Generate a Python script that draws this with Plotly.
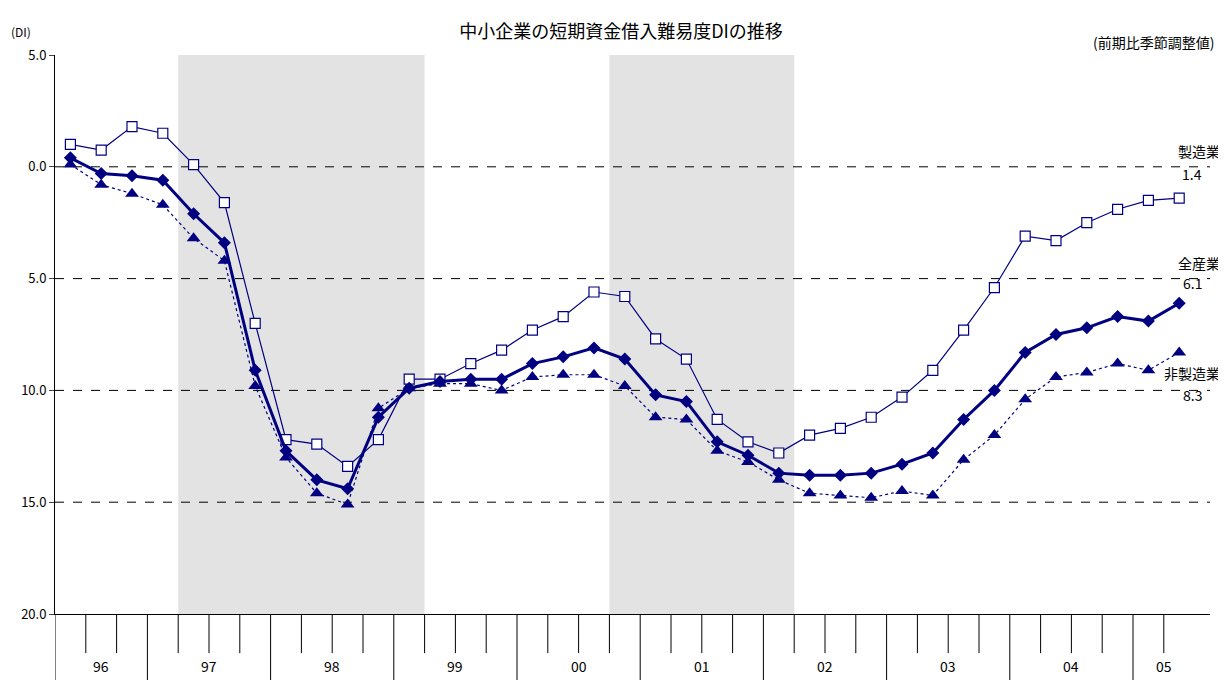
import plotly.graph_objects as go

# quarters 96Q2 .. 05Q2
n_q = 37
x = list(range(n_q))
mfg = [1.0, 0.75, 1.8, 1.5, 0.1, -1.6, -7.0, -12.2, -12.4, -13.4, -12.2, -9.5, -9.5, -8.8, -8.2,
       -7.3, -6.7, -5.6, -5.8, -7.7, -8.6, -11.3, -12.3, -12.8, -12.0, -11.7, -11.2, -10.3, -9.1,
       -7.3, -5.4, -3.1, -3.3, -2.5, -1.9, -1.5, -1.4]
all_ind = [0.4, -0.3, -0.4, -0.6, -2.1, -3.4, -9.1, -12.7, -14.0, -14.4, -11.2, -9.9, -9.6, -9.5,
           -9.5, -8.8, -8.5, -8.1, -8.6, -10.2, -10.5, -12.3, -12.9, -13.7, -13.8, -13.8, -13.7,
           -13.3, -12.8, -11.3, -10.0, -8.3, -7.5, -7.2, -6.7, -6.9, -6.1]
non_mfg = [0.1, -0.8, -1.2, -1.7, -3.2, -4.2, -9.8, -13.0, -14.6, -15.1, -10.8, -9.9, -9.7, -9.7,
           -10.0, -9.4, -9.3, -9.3, -9.8, -11.2, -11.3, -12.7, -13.2, -14.0, -14.6, -14.7, -14.8,
           -14.5, -14.7, -13.1, -12.0, -10.4, -9.4, -9.2, -8.8, -9.1, -8.3]

years = ["96", "97", "98", "99", "00", "01", "02", "03", "04", "05"]
year_quarters = [3, 4, 4, 4, 4, 4, 4, 4, 4, 2]
shade_ranges = [(3.5, 11.5), (17.5, 23.5)]

y_vals = [5, 0, -5, -10, -15, -20]
y_text = ["5.0", "0.0", "5.0", "10.0", "15.0", "20.0"]

navy = "#000080"
fig = go.Figure()

for a, b in shade_ranges:
    fig.add_vrect(x0=a, x1=b, fillcolor="#dcdcdc", opacity=0.8, line_width=0, layer="below")

for yv in [0, -5, -10, -15]:
    fig.add_shape(type="line", x0=-0.5, x1=37, y0=yv, y1=yv,
                  line=dict(color="black", width=1, dash="dash"), layer="below")

fig.add_trace(go.Scatter(x=x, y=non_mfg, mode="lines+markers", name="非製造業",
                         line=dict(color=navy, width=1.2, dash="dot"),
                         marker=dict(symbol="triangle-up", size=12, color=navy)))
fig.add_trace(go.Scatter(x=x, y=mfg, mode="lines+markers", name="製造業",
                         line=dict(color=navy, width=1.2),
                         marker=dict(symbol="square", size=10, color="white",
                                     line=dict(color=navy, width=1.2))))
fig.add_trace(go.Scatter(x=x, y=all_ind, mode="lines+markers", name="全産業",
                         line=dict(color=navy, width=3),
                         marker=dict(symbol="diamond", size=10, color=navy)))

# bottom category ticks and year labels
pos = -0.5
for yr, nq in zip(years, year_quarters):
    fig.add_shape(type="line", x0=pos, x1=pos, xref="x", yref="paper", y0=0, y1=-0.15,
                  line=dict(color="black", width=1))
    for k in range(1, nq):
        fig.add_shape(type="line", x0=pos + k, x1=pos + k, xref="x", yref="paper", y0=0, y1=-0.07,
                      line=dict(color="black", width=1))
    fig.add_annotation(x=pos + nq / 2, y=-0.115, xref="x", yref="paper", text=yr,
                       showarrow=False, font=dict(size=14))
    pos += nq

font = dict(family="Noto Sans CJK JP", size=14, color="black")
labels = [("製造業", "1.4", 0.7, -0.3), ("全産業", "6.1", -4.3, -5.2), ("非製造業", "8.3", -9.2, -10.2)]
for name, val, y1, y2 in labels:
    fig.add_annotation(x=1.01, y=y1, xref="paper", yref="y", text=name, showarrow=False,
                       xanchor="right", font=font)
    fig.add_annotation(x=0.995, y=y2, xref="paper", yref="y", text=val, showarrow=False,
                       xanchor="right", font=font)

fig.add_annotation(x=-0.04, y=1.06, xref="paper", yref="paper", text="(DI)", showarrow=False,
                   xanchor="left", font=dict(family="Noto Sans CJK JP", size=12))
fig.add_annotation(x=1.005, y=1.045, xref="paper", yref="paper", text="(前期比季節調整値)",
                   showarrow=False, xanchor="right", font=font)

fig.update_layout(
    width=1226, height=680, showlegend=False,
    margin=dict(l=47, r=24, t=47, b=74, autoexpand=False),
    plot_bgcolor="white", paper_bgcolor="white",
    font=font,
    title=dict(text="中小企業の短期資金借入難易度DIの推移", x=0.5, y=0.975,
               font=dict(family="Noto Sans CJK JP", size=18)),
    xaxis=dict(range=[-0.5, 37], showticklabels=False, showgrid=False, zeroline=False,
               showline=True, linecolor="black", ticks="", automargin=False),
    yaxis=dict(range=[-20, 5], tickvals=y_vals, ticktext=y_text, showgrid=False,
               zeroline=False, showline=True, linecolor="black", ticks="outside",
               ticklen=5, tickfont=dict(size=13), automargin=False),
)

fig.write_html("out.html")
